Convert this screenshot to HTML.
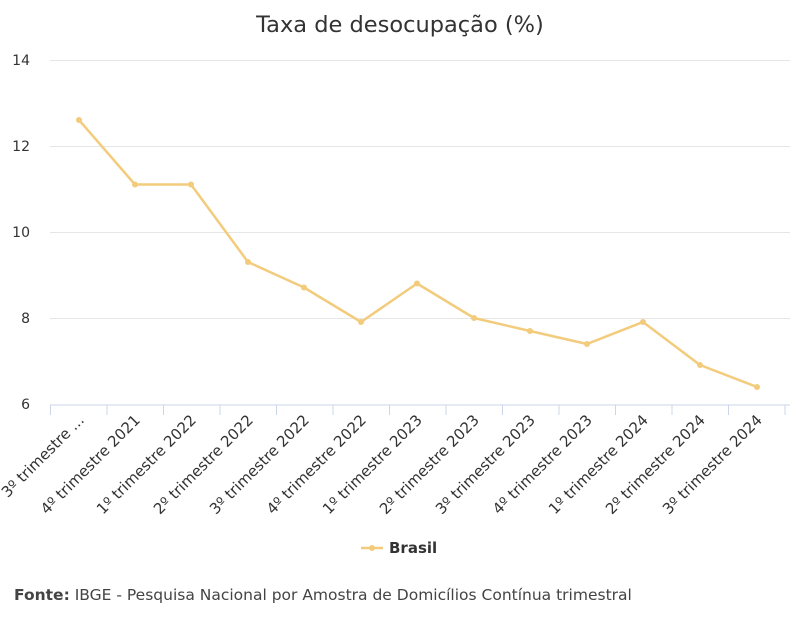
<!DOCTYPE html>
<html><head><meta charset="utf-8"><style>
body{margin:0;background:#fff;}
svg{display:block;font-family:"DejaVu Sans","Liberation Sans",sans-serif;}
</style></head><body>
<svg width="800" height="629" viewBox="0 0 800 629" xmlns="http://www.w3.org/2000/svg">
<text x="400" y="32" text-anchor="middle" font-size="22.5" fill="#333">Taxa de desocupação (%)</text>
<g stroke="#e6e6e6" stroke-width="1">
<line x1="50" y1="60.5" x2="790" y2="60.5"/>
<line x1="50" y1="146.5" x2="790" y2="146.5"/>
<line x1="50" y1="232.5" x2="790" y2="232.5"/>
<line x1="50" y1="318.5" x2="790" y2="318.5"/>
</g>
<line x1="50" y1="405" x2="790" y2="405" stroke="#ccd6eb" stroke-width="1"/>
<g stroke="#ccd6eb">
<line x1="50.5" y1="405" x2="50.5" y2="415"/><line x1="107" y1="405" x2="107" y2="415"/><line x1="163.5" y1="405" x2="163.5" y2="415"/><line x1="220" y1="405" x2="220" y2="415"/><line x1="276.5" y1="405" x2="276.5" y2="415"/><line x1="333" y1="405" x2="333" y2="415"/><line x1="389.5" y1="405" x2="389.5" y2="415"/><line x1="446" y1="405" x2="446" y2="415"/><line x1="502.5" y1="405" x2="502.5" y2="415"/><line x1="559" y1="405" x2="559" y2="415"/><line x1="615.5" y1="405" x2="615.5" y2="415"/><line x1="672" y1="405" x2="672" y2="415"/><line x1="728.5" y1="405" x2="728.5" y2="415"/><line x1="785" y1="405" x2="785" y2="415"/>
</g>
<g font-size="14" fill="#333" text-anchor="end">
<text x="30" y="65">14</text><text x="30" y="151">12</text><text x="30" y="237">10</text><text x="30" y="323">8</text><text x="30" y="409">6</text>
</g>
<g font-size="15" fill="#333" text-anchor="end">
<text transform="translate(85,421) rotate(-45)">3º trimestre ...</text>
<text transform="translate(141,421) rotate(-45)">4º trimestre 2021</text>
<text transform="translate(197,421) rotate(-45)">1º trimestre 2022</text>
<text transform="translate(254,421) rotate(-45)">2º trimestre 2022</text>
<text transform="translate(310,421) rotate(-45)">3º trimestre 2022</text>
<text transform="translate(367,421) rotate(-45)">4º trimestre 2022</text>
<text transform="translate(423,421) rotate(-45)">1º trimestre 2023</text>
<text transform="translate(480,421) rotate(-45)">2º trimestre 2023</text>
<text transform="translate(536,421) rotate(-45)">3º trimestre 2023</text>
<text transform="translate(593,421) rotate(-45)">4º trimestre 2023</text>
<text transform="translate(649,421) rotate(-45)">1º trimestre 2024</text>
<text transform="translate(706,421) rotate(-45)">2º trimestre 2024</text>
<text transform="translate(763,421) rotate(-45)">3º trimestre 2024</text>
</g>
<polyline fill="none" stroke="#f2cc7c" stroke-width="2.5" stroke-linejoin="round" points="79,120 135,184.5 191,184.5 248,262 304,287.5 361,322 417,283.5 474,318 530,331 587,344 643,322 700,365 757,387"/>
<g fill="#f2cc7c">
<circle cx="79" cy="120" r="3"/><circle cx="135" cy="184.5" r="3"/><circle cx="191" cy="184.5" r="3"/><circle cx="248" cy="262" r="3"/><circle cx="304" cy="287.5" r="3"/><circle cx="361" cy="322" r="3"/><circle cx="417" cy="283.5" r="3"/><circle cx="474" cy="318" r="3"/><circle cx="530" cy="331" r="3"/><circle cx="587" cy="344" r="3"/><circle cx="643" cy="322" r="3"/><circle cx="700" cy="365" r="3"/><circle cx="757" cy="387" r="3"/>
</g>
<line x1="361" y1="548" x2="383" y2="548" stroke="#f2cc7c" stroke-width="2.5"/>
<circle cx="372" cy="548" r="3" fill="#f2cc7c"/>
<text x="389" y="553" font-size="15" font-weight="bold" fill="#333">Brasil</text>
<text x="14" y="600" font-size="15.5" fill="#444"><tspan font-weight="bold">Fonte:</tspan> IBGE - Pesquisa Nacional por Amostra de Domicílios Contínua trimestral</text>
</svg>
</body></html>
